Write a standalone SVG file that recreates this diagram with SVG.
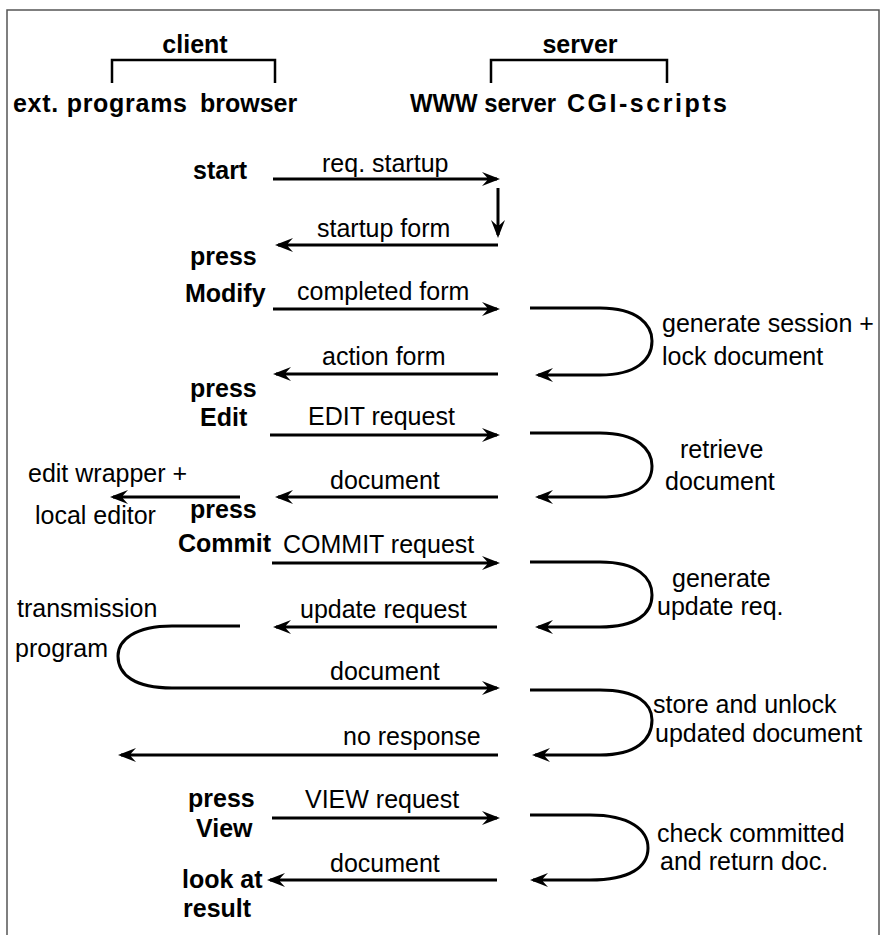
<svg xmlns="http://www.w3.org/2000/svg" width="883" height="935" viewBox="0 0 883 935">
<defs>
<style>
.b{font-family:"Liberation Sans",Arial,sans-serif;font-size:25px;font-weight:bold;fill:#000}
.r{font-family:"Liberation Sans",Arial,sans-serif;font-size:25px;fill:#000}
.c{fill:none;stroke:#000;stroke-width:3}
.br{fill:none;stroke:#000;stroke-width:2.5}
</style>
<marker id="ah" markerUnits="userSpaceOnUse" markerWidth="24" markerHeight="18" viewBox="-17 -9 21 18" refX="0" refY="0" orient="auto">
<path d="M3,0 L-15,-7 L-10,-1.5 L-10,1.5 L-15,7 Z" fill="#000"/>
</marker>
</defs>
<rect x="7" y="10" width="872" height="940" fill="#fff" stroke="#555" stroke-width="1.5"/>
<g id="client-header">
<text class="b" x="195" y="53" text-anchor="middle">client</text>
<path class="br" d="M112,83 V60 H275 V83"/>
<text class="b" x="13" y="112" textLength="174" lengthAdjust="spacing">ext. programs</text>
<text class="b" x="200" y="112">browser</text>
</g>
<g id="server-header">
<text class="b" x="580" y="53" text-anchor="middle">server</text>
<path class="br" d="M491,83 V60 H667 V83"/>
<text class="b" x="410" y="112" textLength="146" lengthAdjust="spacingAndGlyphs">WWW server</text>
<text class="b" x="567" y="112" textLength="160" lengthAdjust="spacing">CGI-scripts</text>
</g>
<g id="client-actions">
<text class="b" x="193" y="179">start</text>
<text class="b" x="190" y="265">press</text>
<text class="b" x="185" y="302">Modify</text>
<text class="b" x="190" y="397">press</text>
<text class="b" x="200" y="426">Edit</text>
<text class="b" x="190" y="518">press</text>
<text class="b" x="178" y="552">Commit</text>
<text class="b" x="188" y="807">press</text>
<text class="b" x="196" y="837">View</text>
<text class="b" x="182" y="888">look at</text>
<text class="b" x="183" y="917">result</text>
</g>
<g id="ext-programs">
<text class="r" x="28" y="482">edit wrapper +</text>
<text class="r" x="35" y="524">local editor</text>
<text class="r" x="17" y="617">transmission</text>
<text class="r" x="15" y="657">program</text>
</g>
<g id="server-actions">
<text class="r" x="662" y="332">generate session +</text>
<text class="r" x="662" y="365">lock document</text>
<text class="r" x="680" y="458">retrieve</text>
<text class="r" x="665" y="490">document</text>
<text class="r" x="672" y="587">generate</text>
<text class="r" x="657" y="615">update req.</text>
<text class="r" x="653" y="713">store and unlock</text>
<text class="r" x="655" y="742">updated document</text>
<text class="r" x="657" y="842">check committed</text>
<text class="r" x="660" y="870">and return doc.</text>
</g>
<g id="connectors">
<path class="c" d="M273,179 H497" marker-end="url(#ah)"/>
<path class="c" d="M498,188 V235" marker-end="url(#ah)"/>
<path class="c" d="M498,245 H278" marker-end="url(#ah)"/>
<path class="c" d="M273,309 H497" marker-end="url(#ah)"/>
<path class="c" d="M530,308 H600 C638,308 652,325 652,341 C652,360 636,375 600,375 H538" marker-end="url(#ah)"/>
<path class="c" d="M498,374 H276" marker-end="url(#ah)"/>
<path class="c" d="M270,435 H497" marker-end="url(#ah)"/>
<path class="c" d="M530,433 H600 C638,433 652,450 652,466 C652,485 636,497 600,497 H538" marker-end="url(#ah)"/>
<path class="c" d="M498,497 H278" marker-end="url(#ah)"/>
<path class="c" d="M240,497 H113" marker-end="url(#ah)"/>
<path class="c" d="M272,563 H497" marker-end="url(#ah)"/>
<path class="c" d="M530,562 H600 C638,562 652,578 652,595 C652,614 636,627 600,627 H538" marker-end="url(#ah)"/>
<path class="c" d="M497,627 H276" marker-end="url(#ah)"/>
<path class="c" d="M240,626 H172 C135,626 118,640 118,656 C118,675 135,688 172,688 H497" marker-end="url(#ah)"/>
<path class="c" d="M530,690 H600 C638,690 652,704 652,720 C652,740 636,755 600,755 H535" marker-end="url(#ah)"/>
<path class="c" d="M498,755 H121" marker-end="url(#ah)"/>
<path class="c" d="M272,818 H497" marker-end="url(#ah)"/>
<path class="c" d="M530,815 H590 C630,815 648,830 648,848 C648,867 630,880 590,880 H533" marker-end="url(#ah)"/>
<path class="c" d="M497,880 H270" marker-end="url(#ah)"/>
</g>
<g id="connector-labels">
<text class="r" x="322" y="172">req. startup</text>
<text class="r" x="317" y="237">startup form</text>
<text class="r" x="297" y="300">completed form</text>
<text class="r" x="322" y="365">action form</text>
<text class="r" x="308" y="425">EDIT request</text>
<text class="r" x="330" y="489">document</text>
<text class="r" x="283" y="553">COMMIT request</text>
<text class="r" x="300" y="618">update request</text>
<text class="r" x="330" y="680">document</text>
<text class="r" x="343" y="745">no response</text>
<text class="r" x="305" y="808">VIEW request</text>
<text class="r" x="330" y="872">document</text>
</g>
</svg>
